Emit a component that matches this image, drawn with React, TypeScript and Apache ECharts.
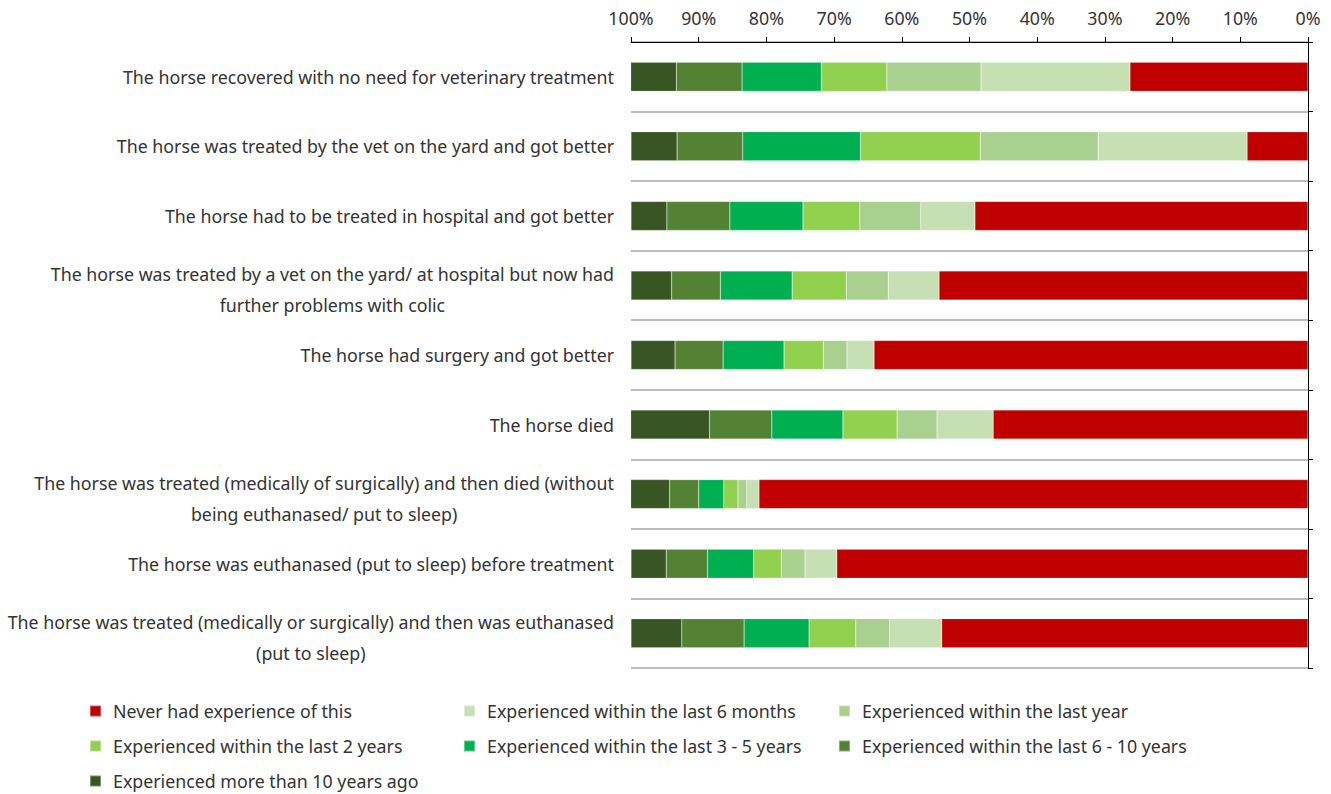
import React, { useEffect, useRef } from "react";
import * as echarts from "echarts";

const categories = [
  "The horse recovered with no need for veterinary treatment",
  "The horse was treated by the vet on the yard and got better",
  "The horse had to be treated in hospital and got better",
  "The horse was treated by a vet on the yard/ at hospital but now had\nfurther problems with colic",
  "The horse had surgery and got better",
  "The horse died",
  "The horse was treated (medically of surgically) and then died (without\nbeing euthanased/ put to sleep)",
  "The horse was euthanased (put to sleep) before treatment",
  "The horse was treated (medically or surgically) and then was euthanased\n(put to sleep)",
];

const seriesNames = [
  "Never had experience of this",
  "Experienced within the last 6 months",
  "Experienced within the last year",
  "Experienced within the last 2 years",
  "Experienced within the last 3 - 5 years",
  "Experienced within the last 6 - 10 years",
  "Experienced more than 10 years ago",
];

const never = [26.3, 9.0, 49.2, 54.5, 64.1, 46.5, 81.1, 69.6, 54.1];
const months6 = [22.0, 22.0, 8.0, 7.5, 4.0, 8.3, 1.8, 4.7, 7.7];
const year1 = [13.9, 17.4, 9.0, 6.2, 3.5, 5.9, 1.3, 3.5, 5.0];
const years2 = [9.7, 17.7, 8.4, 8.0, 5.8, 8.0, 2.1, 4.1, 6.9];
const years3to5 = [11.7, 17.4, 10.8, 10.6, 9.0, 10.5, 3.7, 6.8, 9.6];
const years6to10 = [9.7, 9.7, 9.3, 7.2, 7.1, 9.2, 4.3, 6.1, 9.2];
const years10plus = [6.8, 6.8, 5.3, 6.0, 6.5, 11.7, 5.8, 5.2, 7.5];

const seriesData = [never, months6, year1, years2, years3to5, years6to10, years10plus];
const colors = ["#C00000", "#C6E0B4", "#A9D08E", "#92D050", "#00B050", "#548235", "#375623"];

const xTicks = [0, 10, 20, 30, 40, 50, 60, 70, 80, 90, 100];

const FONT = "'Noto Sans', sans-serif";
const TEXT = "#333333";
const FS = 17.8;

export default function App() {
  const ref = useRef<HTMLDivElement>(null);
  useEffect(() => {
    if (!ref.current) return;
    const chart = echarts.init(ref.current, null, { renderer: "svg" });
    const legendPos = [
      [89, 711], [463, 711], [838, 711],
      [89, 746], [463, 746], [838, 746],
      [89, 781],
    ];
    const catData = categories.map((c) =>
      c.includes("\n") ? { value: c, textStyle: { padding: [8, 0, 0, 0] } } : c
    );
    chart.setOption({
      animation: false,
      textStyle: { fontFamily: FONT },
      grid: { left: 631, right: 23, top: 42, bottom: 126, containLabel: false },
      legend: seriesNames.map((n, i) => ({
        data: [n],
        left: legendPos[i][0] - 5,
        top: legendPos[i][1] - 14,
        icon: "rect",
        itemWidth: 11,
        itemHeight: 11,
        selectedMode: false,
        textStyle: { fontFamily: FONT, fontSize: FS, color: TEXT, padding: [0, 0, 0, 7] },
      })),
      xAxis: {
        type: "value",
        min: 0,
        max: 100,
        interval: 10,
        inverse: true,
        position: "top",
        axisLine: { show: true, lineStyle: { color: "#000", width: 1 } },
        axisTick: { show: true, length: 5, lineStyle: { color: "#000" } },
        splitLine: { show: false },
        axisLabel: {
          formatter: (v: number) => (xTicks.includes(v) ? v + "%" : ""),
          fontSize: FS,
          color: TEXT,
          fontFamily: FONT,
          margin: 15,
        },
      },
      yAxis: [
        {
          type: "category",
          data: catData,
          inverse: true,
          position: "left",
          axisLine: { show: false },
          axisTick: { show: false },
          splitLine: { show: true, lineStyle: { color: "#A6A6A6", width: 1.5 } },
          axisLabel: {
            margin: 17,
            fontSize: FS,
            color: TEXT,
            fontFamily: FONT,
            lineHeight: 31,
            formatter: (v: string) =>
              v.split("\n").map((l) => "{c|" + l + "}").join("\n"),
            rich: { c: { align: "center", fontSize: FS, color: TEXT, fontFamily: FONT, lineHeight: 31 } },
          },
        },
        {
          type: "category",
          data: categories,
          inverse: true,
          position: "right",
          axisLine: { show: true, lineStyle: { color: "#000", width: 1 } },
          axisTick: { show: true, length: 5, lineStyle: { color: "#000" } },
          axisLabel: { show: false },
          splitLine: { show: false },
        },
      ],
      series: seriesNames.map((n, i) => ({
        name: n,
        type: "bar",
        stack: "total",
        barWidth: 29,
        data: seriesData[i],
        itemStyle: { color: colors[i], borderColor: "rgba(255,255,255,0.35)", borderWidth: 0.5 },
      })),
    });
    return () => chart.dispose();
  }, []);
  return <div ref={ref} style={{ width: 1331, height: 794, position: "absolute", left: 0, top: 0 }} />;
}
